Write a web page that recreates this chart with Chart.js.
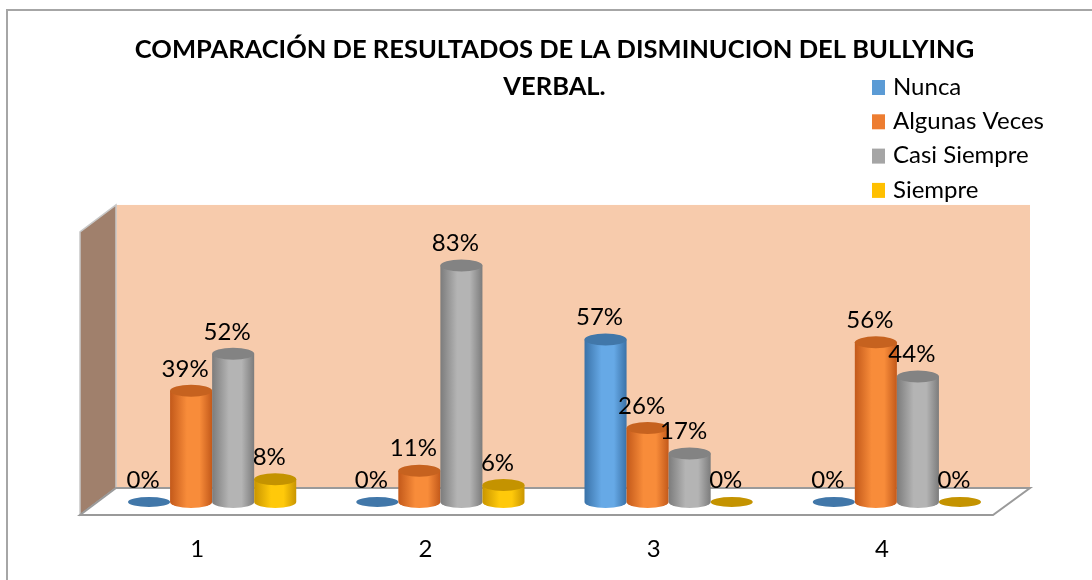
<!DOCTYPE html>
<html>
<head>
<meta charset="utf-8">
<script src="https://cdn.jsdelivr.net/npm/chart.js@4/dist/chart.umd.min.js"></script>
<style>
  body { margin: 0; background: #fff; }
  #frame { position: absolute; left: 6px; top: 9px; width: 1200px; height: 700px; border-left: 2px solid #a6a6a6; border-top: 2px solid #a6a6a6; }
  #wrap { position: absolute; left: 0; top: 0; width: 1092px; height: 580px; }
</style>
</head>
<body>
<div id="frame"></div>
<div id="wrap"><canvas id="chart" width="1092" height="580"></canvas></div>
<script>
const categories = ['1', '2', '3', '4'];
const nunca = [0, 0, 0.57, 0];
const algunasVeces = [0.39, 0.11, 0.26, 0.56];
const casiSiempre = [0.52, 0.83, 0.17, 0.44];
const siempre = [0.08, 0.06, 0, 0];

const seriesNames = ['Nunca', 'Algunas Veces', 'Casi Siempre', 'Siempre'];
const legendColors = ['#5b9bd5', '#ed7d31', '#a5a5a5', '#ffc000'];
// [edge, light, top]
const shades = [
    ['#3a72a8', '#66a9e6', '#4177a9'],
    ['#c3591a', '#f88c3a', '#c6621f'],
    ['#7c7c7c', '#b4b4b4', '#838383'],
    ['#c99500', '#ffc90a', '#c49300']
];

const FONT = 'Lato, "Open Sans", sans-serif';

const wallPlugin = {
    id: 'walls',
    beforeDatasetsDraw(chart) {
        const { ctx, chartArea: a } = chart;
        const base = chart.scales.y.getPixelForValue(0);
        const backL = a.left + 18, backR = a.right + 19, backY = base - 14, top = a.top - 12;
        const frontL = a.left - 18, frontR = a.right - 18, frontY = base + 13;
        ctx.save();
        // back wall
        ctx.fillStyle = '#f7cbac';
        ctx.fillRect(backL, top, backR - backL, backY - top);
        // side wall
        ctx.beginPath();
        ctx.moveTo(backL, top);
        ctx.lineTo(frontL, top + 27);
        ctx.lineTo(frontL, frontY);
        ctx.lineTo(backL, backY);
        ctx.closePath();
        ctx.fillStyle = '#a0806c';
        ctx.fill();
        ctx.strokeStyle = '#c8c8c8';
        ctx.lineWidth = 1.5;
        ctx.stroke();
        // floor
        ctx.beginPath();
        ctx.moveTo(backL, backY);
        ctx.lineTo(backR, backY);
        ctx.lineTo(frontR, frontY);
        ctx.lineTo(frontL, frontY);
        ctx.closePath();
        ctx.fillStyle = '#ffffff';
        ctx.fill();
        ctx.strokeStyle = '#9a9a9a';
        ctx.lineWidth = 2;
        ctx.stroke();
        ctx.restore();
    }
};

const cylinderPlugin = {
    id: 'cylinders',
    afterDatasetsDraw(chart) {
        const ctx = chart.ctx;
        const ry = 6;
        ctx.save();
        chart.data.datasets.forEach((ds, di) => {
            const meta = chart.getDatasetMeta(di);
            const [edge, light, topC] = shades[di];
            meta.data.forEach((bar, i) => {
                const w = bar.width;
                const rx = w / 2;
                const x = bar.x, y = bar.y, b = bar.base;
                if (ds.data[i] === 0) {
                    ctx.beginPath();
                    ctx.ellipse(x, b, rx, ry - 1, 0, 0, Math.PI * 2);
                    ctx.fillStyle = topC;
                    ctx.fill();
                } else {
                    const g = ctx.createLinearGradient(x - rx, 0, x + rx, 0);
                    g.addColorStop(0, edge);
                    g.addColorStop(0.4, light);
                    g.addColorStop(0.7, light);
                    g.addColorStop(1, edge);
                    ctx.beginPath();
                    ctx.moveTo(x - rx, y);
                    ctx.lineTo(x - rx, b);
                    ctx.ellipse(x, b, rx, ry, 0, Math.PI, 0, true);
                    ctx.lineTo(x + rx, y);
                    ctx.closePath();
                    ctx.fillStyle = g;
                    ctx.fill();
                    ctx.beginPath();
                    ctx.ellipse(x, y, rx, ry, 0, 0, Math.PI * 2);
                    ctx.fillStyle = topC;
                    ctx.fill();
                }
                // value label
                ctx.fillStyle = '#000';
                ctx.font = '24px ' + FONT;
                ctx.textAlign = 'center';
                ctx.textBaseline = 'middle';
                const ly = ds.data[i] === 0 ? b - 22 : y - 22;
                ctx.fillText(Math.round(ds.data[i] * 100) + '%', x - 6, ly);
            });
        });
        ctx.restore();
    }
};

const legendPlugin = {
    id: 'sideLegend',
    afterDraw(chart) {
        const ctx = chart.ctx;
        ctx.save();
        ctx.font = '24px ' + FONT;
        ctx.textBaseline = 'middle';
        ctx.textAlign = 'left';
        chart.data.datasets.forEach((ds, i) => {
            const cy = 87 + i * 34.3;
            ctx.fillStyle = legendColors[i];
            ctx.fillRect(872, cy - 7, 13, 15);
            ctx.fillStyle = '#000';
            ctx.fillText(ds.label, 893, cy);
        });
        ctx.restore();
    }
};

const transparent = 'rgba(0,0,0,0)';
new Chart(document.getElementById('chart'), {
    type: 'bar',
    data: {
        labels: categories,
        datasets: [
            { label: seriesNames[0], data: nunca, backgroundColor: transparent },
            { label: seriesNames[1], data: algunasVeces, backgroundColor: transparent },
            { label: seriesNames[2], data: casiSiempre, backgroundColor: transparent },
            { label: seriesNames[3], data: siempre, backgroundColor: transparent }
        ]
    },
    options: {
        responsive: false,
        animation: false,
        layout: { padding: { left: 98, right: 81, top: 0, bottom: 0 } },
        datasets: { bar: { barPercentage: 1, categoryPercentage: 0.737 } },
        plugins: {
            legend: { display: false },
            tooltip: { enabled: false },
            title: {
                display: true,
                text: ['COMPARACIÓN DE RESULTADOS DE LA DISMINUCION DEL BULLYING', 'VERBAL.'],
                color: '#000',
                font: { family: FONT, size: 25.5, weight: 'bold', lineHeight: 1.45 },
                padding: { top: 31, bottom: 112 }
            }
        },
        scales: {
            x: {
                grid: { display: false, drawTicks: false },
                border: { display: false },
                ticks: { color: '#000', font: { family: FONT, size: 24 }, padding: 33, labelOffset: -15 },
                afterFit(scale) { scale.height = 78; }
            },
            y: { display: false, min: 0, max: 1 }
        }
    },
    plugins: [wallPlugin, cylinderPlugin, legendPlugin]
});
</script>
</body>
</html>
